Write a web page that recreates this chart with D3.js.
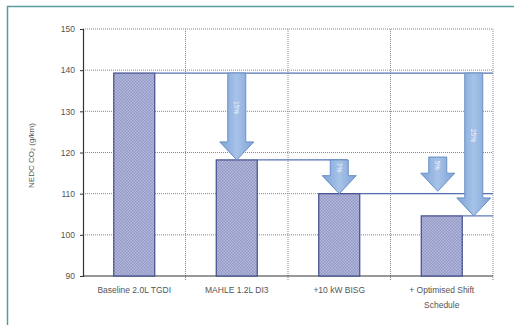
<!DOCTYPE html>
<html><head><meta charset="utf-8">
<script src="https://cdn.jsdelivr.net/npm/d3@7"></script>
<style>html,body{margin:0;padding:0;background:#fff;}svg{display:block;}</style>
</head><body>
<svg id="c" width="514" height="325"></svg>
<script>
// ---- data ----
const categories = ["Baseline 2.0L TGDI", "MAHLE 1.2L DI3", "+10 kW BISG", "+ Optimised Shift Schedule"];
const co2Values = [139.3, 118.2, 110.0, 104.6];
const yTicks = [90, 100, 110, 120, 130, 140, 150];
const arrowCats = [1, 2, 3, 3];
const arrowFrom = [139.3, 118.2, 118.9, 139.3];
const arrowTo = [118.2, 110.0, 110.6, 104.6];
const arrowLabels = ["15%", "7%", "5%", "25%"];
const yLabel = "NEDC CO\u2082 (g/km)";

// ---- layout ----
const W = 514, H = 325;
const m = {left: 83, right: 21, top: 29, bottom: 49};
const svg = d3.select("#c");
const FONT = "Liberation Sans, Arial, sans-serif";

// frame
svg.append("rect").attr("x", 7.5).attr("y", 6.5).attr("width", 520).attr("height", 330)
  .attr("fill", "#fff").attr("stroke", "#5b9a9c").attr("stroke-width", 1.5);

const x = d3.scaleBand().domain(categories).range([m.left, W - m.right]).paddingInner(0.6).paddingOuter(0.3);
const y = d3.scaleLinear().domain([90, 150]).range([H - m.bottom, m.top]);

const defs = svg.append("defs");
const pat = defs.append("pattern").attr("id", "dots").attr("patternUnits", "userSpaceOnUse")
  .attr("width", 3).attr("height", 3);
pat.append("rect").attr("width", 3).attr("height", 3).attr("fill", "#b6badc");
pat.append("rect").attr("width", 1.5).attr("height", 1.5).attr("fill", "#9197c4");
pat.append("rect").attr("x", 1.5).attr("y", 1.5).attr("width", 1.5).attr("height", 1.5).attr("fill", "#9197c4");

const grad = defs.append("linearGradient").attr("id", "ag").attr("x1", 0).attr("x2", 1).attr("y1", 0).attr("y2", 0);
grad.append("stop").attr("offset", "0%").attr("stop-color", "#7ea3d6");
grad.append("stop").attr("offset", "50%").attr("stop-color", "#a6c2e8");
grad.append("stop").attr("offset", "100%").attr("stop-color", "#7ea3d6");

// horizontal grid
svg.append("g").selectAll("line").data(yTicks.filter(d => d > 90)).join("line")
  .attr("x1", m.left).attr("x2", W - m.right)
  .attr("y1", d => y(d)).attr("y2", d => y(d))
  .attr("stroke", "#8a8a8a").attr("stroke-width", 1).attr("stroke-dasharray", "1,1");

// vertical grid at category boundaries
const step = x.step();
const bounds = categories.map((c, i) => x(c) + x.bandwidth() + step * x.paddingInner() / 2);
svg.append("g").selectAll("line").data(bounds).join("line")
  .attr("x1", d => d).attr("x2", d => d)
  .attr("y1", y(150)).attr("y2", y(90) + 4)
  .attr("stroke", "#8a8a8a").attr("stroke-width", 1).attr("stroke-dasharray", "1,1");

// y axis
const yAxis = svg.append("g").attr("transform", `translate(${m.left},0)`)
  .call(d3.axisLeft(y).tickValues(yTicks).tickSize(3).tickPadding(5));
yAxis.select(".domain").attr("stroke", "#333").attr("stroke-width", 1.2);
yAxis.selectAll(".tick line").attr("stroke", "#333");
yAxis.selectAll("text").attr("font-family", FONT).attr("font-size", 8.5).attr("fill", "#555");

// x axis line
svg.append("line").attr("x1", m.left).attr("x2", W - m.right)
  .attr("y1", y(90)).attr("y2", y(90)).attr("stroke", "#333").attr("stroke-width", 1.2);

// y label
svg.append("text").attr("transform", `translate(34,${(y(90) + y(150)) / 2 + 3}) rotate(-90)`)
  .attr("text-anchor", "middle").attr("font-family", FONT)
  .attr("font-size", 8).attr("fill", "#555").text(yLabel);

// bars
svg.append("g").selectAll("rect").data(categories).join("rect")
  .attr("x", d => x(d)).attr("width", x.bandwidth())
  .attr("y", (d, i) => y(co2Values[i])).attr("height", (d, i) => y(90) - y(co2Values[i]))
  .attr("fill", "url(#dots)").attr("stroke", "#3f4d8c").attr("stroke-width", 1.2);

// reference lines
const refG = svg.append("g").attr("stroke", "#5573b0").attr("stroke-width", 1.2);
const right = W - m.right;
const ac = i => x(categories[arrowCats[i]]) + x.bandwidth() / 2;
const arrowDx = [0, 0, -4, 32];
refG.append("line").attr("x1", x(categories[0]) + x.bandwidth()).attr("x2", right)
  .attr("y1", y(co2Values[0])).attr("y2", y(co2Values[0]));
refG.append("line").attr("x1", x(categories[1]) + x.bandwidth()).attr("x2", ac(1) + arrowDx[1] + 8)
  .attr("y1", y(co2Values[1])).attr("y2", y(co2Values[1]));
refG.append("line").attr("x1", x(categories[2]) + x.bandwidth()).attr("x2", right)
  .attr("y1", y(co2Values[2])).attr("y2", y(co2Values[2]));
refG.append("line").attr("x1", x(categories[3]) + x.bandwidth()).attr("x2", right)
  .attr("y1", y(co2Values[3])).attr("y2", y(co2Values[3]));

// arrows
const sw = 9, hw = 17, hl = 18;
arrowFrom.forEach((f, i) => {
  const cx = ac(i) + arrowDx[i];
  const y0 = y(f), y1 = y(arrowTo[i]), yh = y1 - hl;
  const pts = [[cx - sw, y0], [cx + sw, y0], [cx + sw, yh], [cx + hw, yh], [cx, y1],
               [cx - hw, yh], [cx - sw, yh]];
  svg.append("path").attr("d", "M" + pts.map(p => p.join(",")).join("L") + "Z")
    .attr("fill", "url(#ag)").attr("stroke", "#6a8fc6").attr("stroke-width", 1);
  const ly = (y0 + yh) / 2;
  svg.append("text").attr("transform", `translate(${cx},${ly}) rotate(90)`)
    .attr("text-anchor", "middle").attr("dy", "0.35em")
    .attr("font-family", FONT).attr("font-size", 6.5)
    .attr("fill", "#f2f6fc").text(arrowLabels[i]);
});

// category labels
const catLines = [["Baseline 2.0L TGDI"], ["MAHLE 1.2L DI3"], ["+10 kW BISG"], ["+ Optimised Shift", "Schedule"]];
categories.forEach((c, i) => {
  const t = svg.append("text").attr("x", x(c) + x.bandwidth() / 2).attr("y", y(90) + 17)
    .attr("text-anchor", "middle").attr("font-family", FONT)
    .attr("font-size", 8.5).attr("fill", "#555");
  catLines[i].forEach((l, j) => t.append("tspan").attr("x", x(c) + x.bandwidth() / 2)
    .attr("dy", j === 0 ? 0 : 15).text(l));
});
</script>
</body></html>
